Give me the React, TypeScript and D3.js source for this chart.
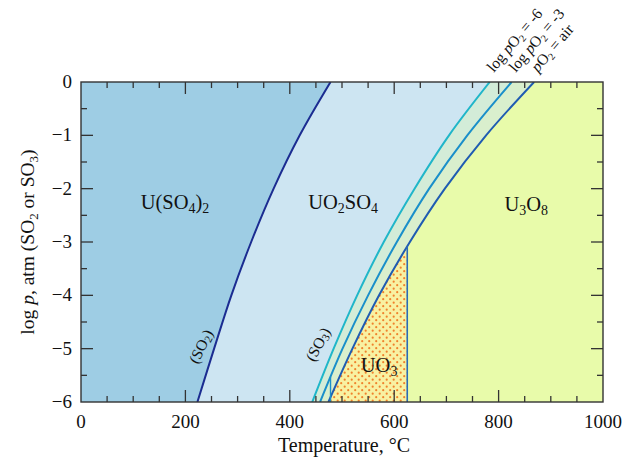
import { useEffect, useRef } from 'react';
import * as d3 from 'd3';

// points are [temperature °C, log p]
type Pt = [number, number];

// U(SO4)2 / UO2SO4 boundary (SO2)
const so2Line: Pt[] = [[223, -6], [255, -5], [288, -4], [326, -3], [369, -2], [419, -1], [478, 0]];
// UO2SO4 decomposition (SO3) at three oxygen pressures
const so3LineO6: Pt[] = [[443, -6], [484, -5], [529, -4], [580, -3], [639, -2], [705, -1], [783, 0]];
const so3LineO3: Pt[] = [[458, -6], [501, -5], [550, -4], [605, -3], [667, -2], [740, -1], [825, 0]];
const so3LineAir: Pt[] = [[474, -6], [520, -5], [571, -4], [630, -3], [697, -2], [776, -1], [868, 0]];
// UO3 / U3O8 boundary and the short step near the bottom
const uo3Boundary: Pt[] = [[625, -6], [625, -3.08]];
const smallStep: Pt[] = [[478, -6], [478, -5.53]];

const xMajor = [0, 200, 400, 600, 800, 1000];
const xMinor = d3.range(50, 1000, 50).filter((v) => v % 200 !== 0);
const yMajor = [0, -1, -2, -3, -4, -5, -6];
const yMinor = [-0.5, -1.5, -2.5, -3.5, -4.5, -5.5];

const FONT = '"Liberation Serif", "Times New Roman", serif';

export default function App() {
  const svgRef = useRef<SVGSVGElement>(null);

  useEffect(() => {
    document.body.style.margin = '0';
    if (!svgRef.current) return;

    const width = 636;
    const height = 461;
    const left = 81, right = 603, top = 82, bottom = 402;

    const svg = d3.select(svgRef.current);
    svg.selectAll('*').remove();
    svg.attr('width', width).attr('height', height);

    const x = d3.scaleLinear().domain([0, 1000]).range([left, right]);
    const y = d3.scaleLinear().domain([-6, 0]).range([bottom, top]);

    const curve = d3.line<Pt>()
      .x((d) => x(d[0]))
      .y((d) => y(d[1]))
      .curve(d3.curveCatmullRom.alpha(0.5));
    const straight = d3.line<Pt>().x((d) => x(d[0])).y((d) => y(d[1]));

    const defs = svg.append('defs');
    defs.append('clipPath').attr('id', 'plot')
      .append('rect').attr('x', left).attr('y', top)
      .attr('width', right - left).attr('height', bottom - top);
    defs.append('clipPath').attr('id', 'uo3clip')
      .append('rect').attr('x', left).attr('y', top)
      .attr('width', x(uo3Boundary[0][0]) - left).attr('height', bottom - top);
    const pat = defs.append('pattern').attr('id', 'dots')
      .attr('patternUnits', 'userSpaceOnUse').attr('width', 7).attr('height', 7);
    pat.append('rect').attr('width', 7).attr('height', 7).attr('fill', '#f8f1a2');
    pat.append('circle').attr('cx', 1.7).attr('cy', 1.7).attr('r', 1.1).attr('fill', '#f0822c');
    pat.append('circle').attr('cx', 5.2).attr('cy', 5.2).attr('r', 1.1).attr('fill', '#f0822c');

    const g = svg.append('g').attr('clip-path', 'url(#plot)');

    const leftOf = (pts: Pt[]) =>
      curve(pts) + `L${x(0) - 2},${y(0) - 2}L${x(0) - 2},${y(-6) + 2}Z`;
    const rightOf = (pts: Pt[]) =>
      curve(pts) + `L${x(1000) + 2},${y(0) - 2}L${x(1000) + 2},${y(-6) + 2}Z`;
    const between = (a: Pt[], b: Pt[]) =>
      curve(a) + 'L' + (curve([...b].reverse()) as string).slice(1) + 'Z';

    // regions
    g.append('rect').attr('x', left).attr('y', top)
      .attr('width', right - left).attr('height', bottom - top).attr('fill', '#e8fbaa');
    g.append('path').attr('d', leftOf(so3LineO6)).attr('fill', '#cde5f2');
    g.append('path').attr('d', between(so3LineO6, so3LineO3)).attr('fill', '#d3ecd8');
    g.append('path').attr('d', between(so3LineO3, so3LineAir)).attr('fill', '#d9efcd');
    g.append('path').attr('d', leftOf(so2Line)).attr('fill', '#9ecde4');
    g.append('g').attr('clip-path', 'url(#uo3clip)')
      .append('path').attr('d', rightOf(so3LineAir)).attr('fill', 'url(#dots)');

    // boundary lines
    const lines: [Pt[], string, number, boolean][] = [
      [so2Line, '#1b2c91', 2, true],
      [so3LineO6, '#20b6c9', 2, true],
      [so3LineO3, '#1a8fca', 2, true],
      [so3LineAir, '#1f5cb2', 2, true],
      [uo3Boundary, '#2a6cb8', 1.6, false],
      [smallStep, '#1a8fca', 1.4, false],
    ];
    lines.forEach(([pts, color, w, smooth]) => {
      g.append('path')
        .attr('d', smooth ? curve(pts) : straight(pts))
        .attr('fill', 'none')
        .attr('stroke', color)
        .attr('stroke-width', w);
    });

    // frame and inward ticks
    const axisColor = '#333';
    const ticks = svg.append('g').attr('stroke', axisColor).attr('stroke-width', 1.3);
    const xTick = (v: number, len: number) => {
      ticks.append('line').attr('x1', x(v)).attr('x2', x(v)).attr('y1', bottom).attr('y2', bottom - len);
      ticks.append('line').attr('x1', x(v)).attr('x2', x(v)).attr('y1', top).attr('y2', top + len);
    };
    const yTick = (v: number, len: number) => {
      ticks.append('line').attr('x1', left).attr('x2', left + len).attr('y1', y(v)).attr('y2', y(v));
      ticks.append('line').attr('x1', right).attr('x2', right - len).attr('y1', y(v)).attr('y2', y(v));
    };
    xMajor.slice(1, -1).forEach((v) => xTick(v, 12));
    xMinor.forEach((v) => xTick(v, 6));
    yMajor.slice(1, -1).forEach((v) => yTick(v, 12));
    yMinor.forEach((v) => yTick(v, 6));
    svg.append('rect').attr('x', left).attr('y', top)
      .attr('width', right - left).attr('height', bottom - top)
      .attr('fill', 'none').attr('stroke', axisColor).attr('stroke-width', 1.4);

    // tick labels
    svg.append('g').selectAll('text').data(xMajor).enter().append('text')
      .attr('x', (d) => x(d)).attr('y', bottom + 26)
      .attr('text-anchor', 'middle').attr('font-family', FONT).attr('font-size', 19)
      .attr('fill', '#111').text((d) => String(d));
    svg.append('g').selectAll('text').data(yMajor).enter().append('text')
      .attr('x', left - 9).attr('y', (d) => y(d) + 6)
      .attr('text-anchor', 'end').attr('font-family', FONT).attr('font-size', 19)
      .attr('fill', '#111').text((d) => (d === 0 ? '0' : '\u2212' + Math.abs(d)));

    // axis titles
    svg.append('text').attr('x', (left + right) / 2 + 2).attr('y', 452)
      .attr('text-anchor', 'middle').attr('font-family', FONT).attr('font-size', 20)
      .attr('fill', '#111').text('Temperature, \u00b0C');

    const yl = svg.append('text')
      .attr('transform', `translate(34,${(top + bottom) / 2}) rotate(-90)`)
      .attr('text-anchor', 'middle').attr('font-family', FONT).attr('font-size', 19.5)
      .attr('fill', '#111');
    yl.append('tspan').text('log ');
    yl.append('tspan').attr('font-style', 'italic').text('p');
    yl.append('tspan').text(', atm (SO');
    yl.append('tspan').attr('font-size', 13).attr('dy', 4).text('2');
    yl.append('tspan').attr('dy', -4).text(' or SO');
    yl.append('tspan').attr('font-size', 13).attr('dy', 4).text('3');
    yl.append('tspan').attr('dy', -4).text(')');

    // region labels: [T, logp, parts]
    const label = (t: number, p: number, parts: [string, boolean][], size: number) => {
      const el = svg.append('text').attr('x', x(t)).attr('y', y(p))
        .attr('text-anchor', 'middle').attr('font-family', FONT).attr('font-size', size)
        .attr('fill', '#111');
      let down = false;
      parts.forEach(([s, sub]) => {
        const ts = el.append('tspan').text(s);
        if (sub && !down) { ts.attr('font-size', size * 0.68).attr('dy', 4); down = true; }
        else if (!sub && down) { ts.attr('dy', -4); down = false; }
        else if (sub) ts.attr('font-size', size * 0.68);
      });
    };
    label(180, -2.39, [['U(SO', false], ['4', true], [')', false], ['2', true]], 20.5);
    label(502, -2.39, [['UO', false], ['2', true], ['SO', false], ['4', true]], 20.5);
    label(853, -2.42, [['U', false], ['3', true], ['O', false], ['8', true]], 20.5);
    label(571, -5.43, [['UO', false], ['3', true]], 20.5);

    // rotated (SO2) / (SO3) labels
    const rotLabel = (px: number, py: number, angle: number, sub: string) => {
      const el = svg.append('text')
        .attr('transform', `translate(${px},${py}) rotate(${angle})`)
        .attr('text-anchor', 'middle').attr('dominant-baseline', 'middle')
        .attr('font-family', FONT).attr('font-size', 15.5).attr('fill', '#111');
      el.append('tspan').text('(SO');
      el.append('tspan').attr('font-size', 11).attr('dy', 3).text(sub);
      el.append('tspan').attr('dy', -3).text(')');
    };
    rotLabel(202, 347, -64, '2');
    rotLabel(319, 345, -62, '3');

    // oxygen pressure labels at the top of each SO3 line
    const topLabels: [Pt[], string, boolean][] = [
      [so3LineO6, '= -6', true],
      [so3LineO3, '= -3', true],
      [so3LineAir, '= air', false],
    ];
    topLabels.forEach(([pts, tail, isLog]) => {
      const end = pts[pts.length - 1];
      const el = svg.append('text')
        .attr('transform', `translate(${x(end[0]) + 4},${y(end[1]) - 9}) rotate(-50)`)
        .attr('font-family', FONT).attr('font-size', 15.5).attr('fill', '#111');
      if (isLog) el.append('tspan').text('log ');
      el.append('tspan').attr('font-style', 'italic').text('p');
      el.append('tspan').text('O');
      el.append('tspan').attr('font-size', 10).attr('dy', 3).text('2');
      el.append('tspan').attr('dy', -3).text(' ' + tail);
    });
  }, []);

  return <svg ref={svgRef} style={{ display: 'block' }} />;
}
